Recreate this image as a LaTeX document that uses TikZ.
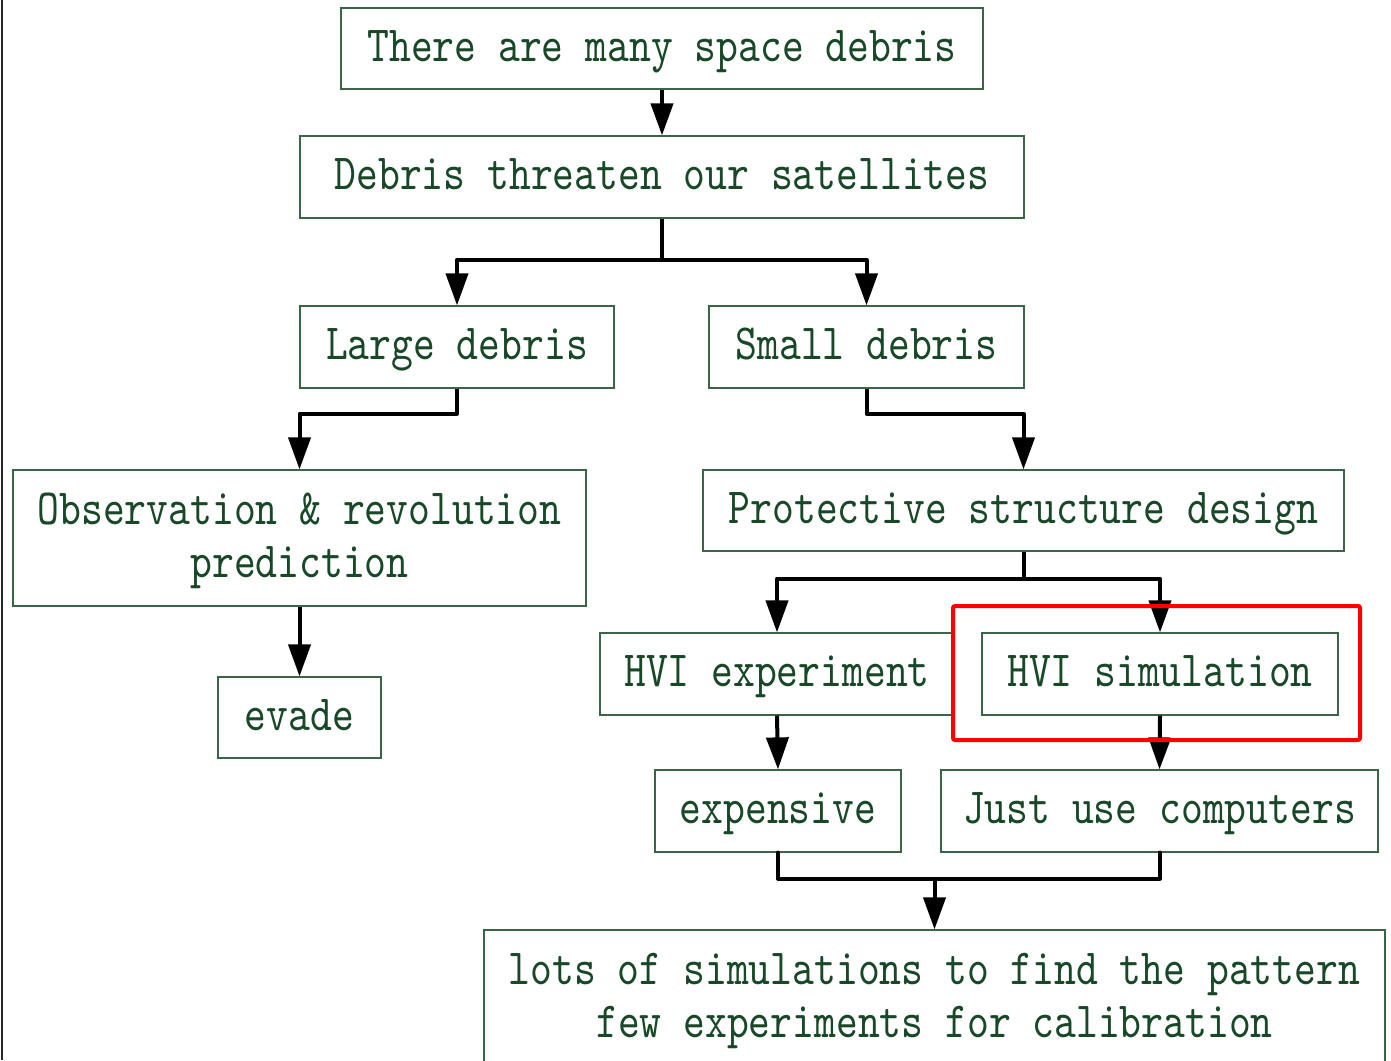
\documentclass[tikz,border=0pt]{standalone}
\usepackage{fontspec}
\newfontfamily\dfont{lmmono10-regular}[Extension=.otf, FakeStretch=0.82]
\usetikzlibrary{arrows.meta,calc}
\definecolor{txtgreen}{RGB}{24,72,40}
\definecolor{boxgreen}{RGB}{60,100,72}
\tikzset{
  box/.style={draw=boxgreen, line width=1.2pt, inner sep=0pt, align=center,
    text=txtgreen, font=\dfont\fontsize{50.7}{53}\selectfont,
    text height=31pt, text depth=6pt},
  twoline/.style={text height=84pt, text depth=6pt},
  arr/.style={draw=black, line width=4pt, line join=round,
    -{Triangle[length=32pt,width=22pt]}},
  conn/.style={draw=black, line width=4pt, line join=round, line cap=round},
  redframe/.style={draw=red, line width=4pt, rounded corners=2pt}
}
\begin{document}
\begin{tikzpicture}[x=1pt,y=-1pt]
\path[use as bounding box, clip] (0,0) rectangle (1391,1060);
\fill[white] (0,0) rectangle (1391,1060);
\draw[line width=2pt, black!85] (2,0) -- (2,1060);

\node[box, minimum width=642pt, minimum height=81pt] (n1) at (662,48.5) {There are many space debris};
\node[box, minimum width=724pt, minimum height=82pt] (n2) at (662,177) {Debris threaten our satellites};
\node[box, minimum width=314pt, minimum height=82pt] (n3) at (457,347) {Large debris};
\node[box, minimum width=315pt, minimum height=82pt] (n4) at (866.5,347) {Small debris};
\node[box, twoline, minimum width=573pt, minimum height=136pt] (n5) at (299.5,538) {Observation \& revolution\\prediction};
\node[box, minimum width=641pt, minimum height=81pt] (n6) at (1023.5,510.5) {Protective structure design};
\node[box, minimum width=163pt, minimum height=81pt] (n7) at (299.5,717.5) {evade};
\node[box, minimum width=354pt, minimum height=82pt] (n8) at (777,674) {HVI experiment};
\node[box, minimum width=356pt, minimum height=82pt] (n9) at (1160,674) {HVI simulation};
\node[box, minimum width=246pt, minimum height=82pt] (n11) at (778,811) {expensive};
\node[box, minimum width=437pt, minimum height=82pt] (n12) at (1159.5,811) {Just use computers};
\node[box, twoline, minimum width=901pt, minimum height=137pt] (n13) at (934.5,998.5) {lots of simulations to find the pattern\\few experiments for calibration};

\draw[arr] (n1.south) -- (n2.north);
\draw[arr] (n2.south) -- ++(0,41) -| (n3.north);
\draw[arr] (n2.south) -- ++(0,41) -| (n4.north);
\draw[arr] (n3.south) -- ++(0,25) -| (n5.north);
\draw[arr] (n4.south) -- ++(0,25) -| (n6.north);
\draw[arr] (n5.south) -- (n7.north);
\draw[arr] (n6.south) -- ++(0,27) -| (n8.north);
\draw[arr] (n6.south) -- ++(0,27) -| (n9.north);
\draw[arr] (n8.south) -- (n11.north);
\draw[arr] (n9.south) -- (n12.north);
\coordinate (j) at ($(n11.south)+(0,26)$);
\draw[conn] (n11.south) -- (j) -| (n12.south);
\draw[arr] (j -| n13.north) -- (n13.north);

\node[redframe, inner sep=0pt, minimum width=407pt, minimum height=134pt] (red) at (1156.5,673) {};
\end{tikzpicture}
\end{document}
